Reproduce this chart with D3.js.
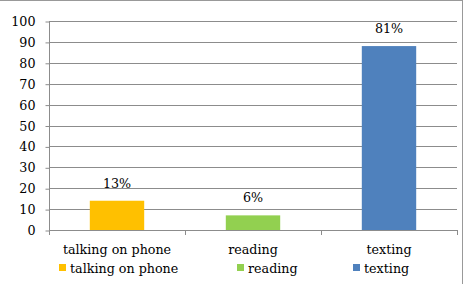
<!DOCTYPE html>
<html><head><meta charset="utf-8">
<script src="https://cdn.jsdelivr.net/npm/d3@7"></script>
<style>body{margin:0;background:#fff}svg{display:block}</style>
</head><body><div id="chart"></div>
<script>
const categories = ["talking on phone", "reading", "texting"];
const values = [14, 7, 88];
const labels = ["13%", "6%", "81%"];
const colors = ["#FFC000", "#92D050", "#4F81BD"];
const yTicks = [0,10,20,30,40,50,60,70,80,90,100];

const W = 465, H = 284;
const FONT = "DejaVu Serif";
const FS = 12.7;
const m = {left:49, right:7, top:21, bottom:54};
const svg = d3.select("#chart").append("svg").attr("width", W).attr("height", H);

svg.append("line").attr("x1",0).attr("x2",462.5).attr("y1",0.5).attr("y2",0.5).attr("stroke","#999");
svg.append("line").attr("x1",462.5).attr("x2",462.5).attr("y1",0).attr("y2",H).attr("stroke","#999");

const x = d3.scaleBand().domain(categories).range([m.left, 457]).paddingInner(0).paddingOuter(0);
const y = d3.scaleLinear().domain([0,100]).range([230, 21]);

svg.append("g").selectAll("line").data(yTicks.filter(d=>d>0)).join("line")
  .attr("x1", m.left).attr("x2", 457)
  .attr("y1", d=>Math.round(y(d))+0.5).attr("y2", d=>Math.round(y(d))+0.5)
  .attr("stroke","#8c8c8c").attr("stroke-width",1);

const yAxis = svg.append("g").attr("transform",`translate(${m.left+0.5},0.5)`)
  .call(d3.axisLeft(y).tickValues(yTicks).tickSize(4).tickPadding(10))
  .attr("font-family", FONT).attr("font-size", FS);
yAxis.select(".domain").attr("stroke","#8c8c8c").attr("d", `M0,${y(100)}V${y(0)}`);
yAxis.selectAll(".tick line").attr("stroke","#8c8c8c");
yAxis.selectAll(".tick text").attr("fill","#000");

const bw = x.bandwidth()*0.4;
svg.append("g").selectAll("rect").data(categories).join("rect")
  .attr("x", d=>x(d)+x.bandwidth()/2-bw/2)
  .attr("y", (d,i)=>y(values[i]))
  .attr("width", bw)
  .attr("height", (d,i)=>y(0)-y(values[i]))
  .attr("fill", (d,i)=>colors[i]);

const xAxis = svg.append("g").attr("transform",`translate(0,${Math.round(y(0))+0.5})`)
  .call(d3.axisBottom(x).tickSize(0).tickPadding(14))
  .attr("font-family", FONT).attr("font-size", FS);
xAxis.select(".domain").attr("stroke","#8c8c8c").attr("d", `M${m.left},0H457`);
xAxis.selectAll(".tick text").attr("fill","#000");
svg.append("g").selectAll("line").data([x.range()[0], ...categories.map(c=>x(c)+x.bandwidth())]).join("line")
  .attr("x1", d=>Math.round(d)+0.5).attr("x2", d=>Math.round(d)+0.5)
  .attr("y1", Math.round(y(0))).attr("y2", Math.round(y(0))+5)
  .attr("stroke","#8c8c8c");

svg.append("g").attr("font-family", FONT).attr("font-size", FS)
  .selectAll("text").data(categories).join("text")
  .attr("x", d=>x(d)+x.bandwidth()/2)
  .attr("y", (d,i)=>y(values[i])-13)
  .attr("text-anchor","middle")
  .text((d,i)=>labels[i]);

const legX = [59, 237, 353];
const lg = svg.append("g").attr("font-family", FONT).attr("font-size", FS)
  .selectAll("g").data(categories).join("g")
  .attr("transform",(d,i)=>`translate(${legX[i]},268)`);
lg.append("rect").attr("x",0).attr("y",-4).attr("width",7).attr("height",7).attr("fill",(d,i)=>colors[i]);
lg.append("text").attr("x",11).attr("y",4.5).text(d=>d);
</script></body></html>
